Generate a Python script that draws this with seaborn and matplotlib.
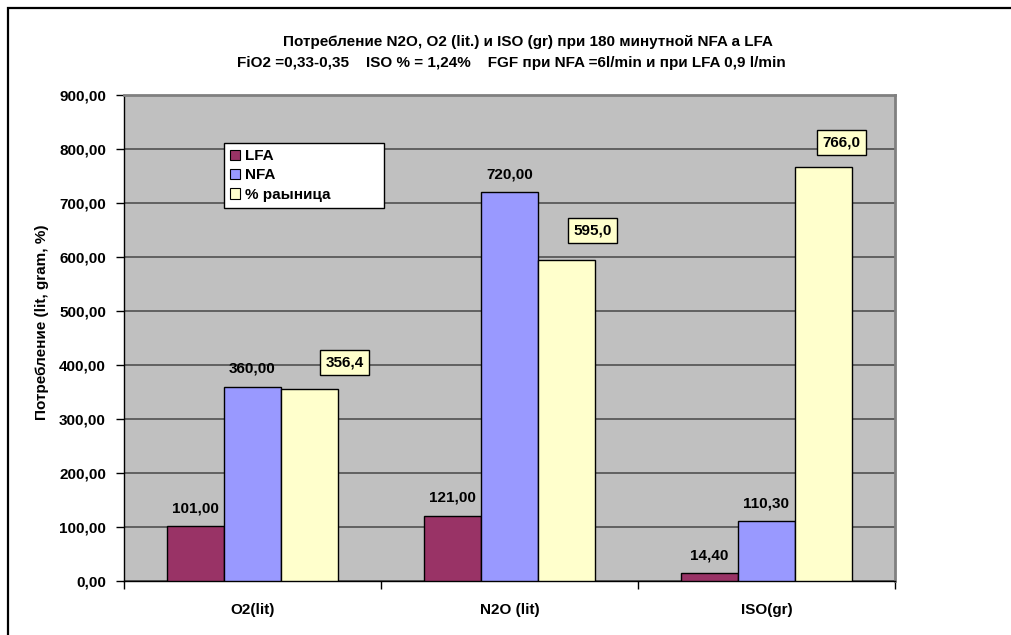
import matplotlib
matplotlib.use("Agg")
import matplotlib.pyplot as plt
import matplotlib.patches as mpatches
import seaborn as sns
import pandas as pd

# Consumption over 180 min: low-flow vs normal-flow anaesthesia
categories = ["O2(lit)", "N2O (lit)", "ISO(gr)"]
series = ["LFA", "NFA", "% раыница"]
lfa_values = [101.0, 121.0, 14.4]
nfa_values = [360.0, 720.0, 110.3]
diff_values = [356.4, 595.0, 766.0]
y_ticks = [0, 100, 200, 300, 400, 500, 600, 700, 800, 900]

title_line1 = "Потребление N2O, O2 (lit.) и ISO (gr) при 180 минутной NFA а LFA"
title_line2 = "FiO2 =0,33-0,35    ISO % = 1,24%    FGF при NFA =6l/min и при LFA 0,9 l/min"
y_label = "Потребление (lit, gram, %)"

colors = ["#993366", "#9999FF", "#FFFFCC"]

df = pd.DataFrame({
    "category": categories * 3,
    "series": [s for s in series for _ in categories],
    "value": lfa_values + nfa_values + diff_values,
})

sns.set_theme(style="white")
plt.rcParams["font.family"] = ["Liberation Sans", "DejaVu Sans"]
plt.rcParams["font.weight"] = "bold"
for key in ["text.color", "axes.labelcolor", "xtick.color", "ytick.color"]:
    plt.rcParams[key] = "black"
FS = 11

W, H = 1012, 635
fig = plt.figure(figsize=(W / 100, H / 100), dpi=100)
fig.patch.set_facecolor("white")

# plot area in pixels: x 124..895, y 95..581
PX0, PX1, PY0, PY1 = 124, 895, 95, 581
ax = fig.add_axes([PX0 / W, 1 - PY1 / H, (PX1 - PX0) / W, (PY1 - PY0) / H])
ax.set_facecolor("#C0C0C0")

sns.barplot(data=df, x="category", y="value", hue="series", order=categories,
            hue_order=series, palette=colors, width=0.667, gap=0,
            edgecolor="black", linewidth=1.0, saturation=1, ax=ax, zorder=3)

ax.set_xlim(-0.5, 2.5)
ax.set_ylim(0, 900)

# gridlines
ax.set_yticks(y_ticks)
ax.yaxis.grid(True, color="#5a5a5a", linewidth=1.3, zorder=0)
ax.set_axisbelow(True)
ax.set_yticklabels([f"{t:.2f}".replace(".", ",") for t in y_ticks],
                   fontsize=FS, fontweight="bold", color="black")
ax.tick_params(axis="y", direction="out", length=6, width=1, color="black",
               pad=7, left=True)

# category boundaries carry the tick marks, category centres the labels
ax.set_xticks([-0.5, 0.5, 1.5, 2.5])
ax.set_xticklabels([])
ax.tick_params(axis="x", which="major", direction="out", length=6, width=1,
               color="black", bottom=True)
ax.set_xticks([0, 1, 2], minor=True)
ax.set_xticklabels(categories, minor=True, fontsize=FS, fontweight="bold",
                   color="black")
ax.tick_params(axis="x", which="minor", length=0, pad=16)
ax.set_xlabel("")

ax.set_ylabel(y_label, fontsize=FS, fontweight="bold", color="black")
ax.yaxis.label.set_va("center")
ax.yaxis.set_label_coords((42 - PX0) / (PX1 - PX0), (PY1 - 322) / (PY1 - PY0))

for side in ["left", "bottom"]:
    ax.spines[side].set_color("black")
    ax.spines[side].set_linewidth(1.0)
for side in ["top", "right"]:
    ax.spines[side].set_color("#808080")
    ax.spines[side].set_linewidth(2.0)

# value labels
label_offsets = [(35, 26), (26, 29), (18, 25)]
for cont, name in zip(ax.containers, series):
    for i, bar in enumerate(cont):
        v = bar.get_height()
        cx = bar.get_x() + bar.get_width() / 2
        if name == "% раыница":
            dx, dy = label_offsets[i]
            ax.annotate(f"{v:.1f}".replace(".", ","), (cx, v),
                        xytext=(dx * 0.72, dy * 0.72), textcoords="offset points",
                        ha="center", va="center", fontsize=FS, fontweight="bold",
                        color="black", zorder=5,
                        bbox=dict(boxstyle="square,pad=0.35", fc="#FFFFCC",
                                  ec="black", lw=1.0))
        else:
            ax.annotate(f"{v:.2f}".replace(".", ","), (cx, v),
                        xytext=(0, 18 * 0.72), textcoords="offset points",
                        ha="center", va="center", fontsize=FS,
                        fontweight="bold", color="black", zorder=5)

# legend box: 224..384 px wide, top at 143 px
leg_x = (224 - PX0) / (PX1 - PX0)
leg_top = (PY1 - 143) / (PY1 - PY0)
leg_w = 160 / (PX1 - PX0)
leg = ax.legend(loc="upper left", mode="expand",
                bbox_to_anchor=(leg_x, leg_top - 0.2, leg_w, 0.2),
                frameon=True, fancybox=False, shadow=False,
                prop={"size": FS, "weight": "bold"},
                handlelength=0.65, handleheight=0.65, handletextpad=0.3,
                labelspacing=0.35, borderpad=0.4, borderaxespad=0)
leg.get_frame().set_edgecolor("black")
leg.get_frame().set_linewidth(1.0)
leg.get_frame().set_facecolor("white")
leg.get_frame().set_alpha(1.0)
for t in leg.get_texts():
    t.set_color("black")
for h in leg.legend_handles:
    h.set_edgecolor("black")
    h.set_linewidth(0.8)
leg.set_zorder(6)

fig.text(528 / W, 1 - 42 / H, title_line1, ha="center", va="center",
         fontsize=FS, fontweight="bold", color="black")
fig.text(511 / W, 1 - 63 / H, title_line2, ha="center", va="center",
         fontsize=FS, fontweight="bold", color="black")

# chart border
fig.add_artist(mpatches.Rectangle((8 / W, -0.1), 1.2, 1 - 8 / H + 0.1,
                                  transform=fig.transFigure, fill=False,
                                  ec="black", lw=1.6))

fig.savefig("out.png", dpi=100, facecolor="white")
